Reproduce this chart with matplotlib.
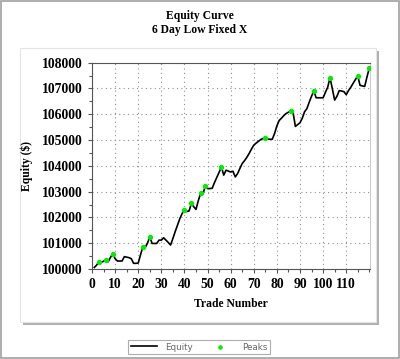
import matplotlib
matplotlib.use('Agg')
import matplotlib.pyplot as plt
from matplotlib.patches import Rectangle
from matplotlib.ticker import MultipleLocator

# equity after each trade
trades = list(range(1, 121))
equity = [
    100060, 100150, 100280, 100260, 100300, 100360, 100280, 100450, 100600, 100400,
    100310, 100310, 100310, 100480, 100460, 100440, 100400, 100220, 100220, 100230,
    100550, 100860, 100830, 101000, 101250, 100990, 100990, 100990, 101120, 101120,
    101210, 101120, 101030, 100930, 101180, 101450, 101700, 101950, 102150, 102280,
    102230, 102250, 102540, 102420, 102310, 102650, 102930, 102900, 103210, 103120,
    103120, 103130, 103350, 103550, 103750, 103960, 103640, 103830, 103800, 103760,
    103790, 103570, 103700, 103900, 104090, 104200, 104330, 104480, 104650, 104800,
    104880, 104950, 105020, 105060, 105090, 105040, 105030, 105030, 105250, 105550,
    105760, 105850, 105950, 106030, 106080, 106120, 106080, 105530, 105600, 105670,
    105850, 106100, 106220, 106470, 106700, 106900, 106640, 106640, 106640, 106640,
    106850, 107050, 107420, 106990, 106550, 106700, 106920, 106900, 106880, 106760,
    106920, 107050, 107200, 107350, 107480, 107120, 107100, 107080, 107450, 107790,
]
peak_trades = [3, 6, 9, 22, 25, 40, 43, 47, 49, 56, 75, 86, 96, 103, 115, 120]
peak_equity = [equity[t - 1] for t in peak_trades]

serif = 'Liberation Serif'

fig = plt.figure(figsize=(4.0, 3.59), dpi=100)

# panel with drop shadow
fig.patches.append(Rectangle((23 / 400, 1 - 325 / 359), 356 / 400, 274 / 359,
                             transform=fig.transFigure, facecolor='#b0b0b0',
                             edgecolor='none', zorder=-3))
fig.patches.append(Rectangle((20 / 400, 1 - 322 / 359), 356 / 400, 274 / 359,
                             transform=fig.transFigure, facecolor='white',
                             edgecolor='#e4e4e4', linewidth=0.8, zorder=-2))
# thin outer frame of the image
fig.patches.append(Rectangle((0.002, 0.002), 0.996, 0.996, transform=fig.transFigure,
                             facecolor='none', edgecolor='#a0a0a0', linewidth=1.2,
                             zorder=-1))

ax = fig.add_axes([92 / 400, 1 - 269 / 359, 278 / 400, (269 - 62.7) / 359])
ax.set_facecolor('none')
ax.plot(trades, equity, color='black', linewidth=1.2, label='Equity', zorder=3)
ax.scatter(peak_trades, peak_equity, color='#00ee00', s=8, label='Peaks', zorder=4)

ax.set_xlim(0, 120.3)
ax.set_ylim(100000, 108000)
ax.xaxis.set_minor_locator(MultipleLocator(5))
ax.yaxis.set_major_locator(MultipleLocator(1000))
ax.yaxis.set_minor_locator(MultipleLocator(500))
ax.set_xticks(range(0, 120, 10))
ax.grid(True, which='major', linestyle=(0, (1, 3)), color='#909090', linewidth=0.8)

for s in ['top', 'left', 'bottom']:
    ax.spines[s].set_color('#555555')
ax.spines['right'].set_color('#cccccc')
ax.tick_params(which='both', direction='out', color='#555555', length=3, width=0.8)
ax.tick_params(which='minor', length=2)
for lab in ax.get_xticklabels() + ax.get_yticklabels():
    lab.set_fontfamily(serif)
    lab.set_fontweight('bold')
    lab.set_fontsize(9.8)

ax.set_xlabel('Trade Number', fontfamily=serif, fontweight='bold', fontsize=8.4, labelpad=5)
ax.set_ylabel('Equity ($)', fontfamily=serif, fontweight='bold', fontsize=8.4, labelpad=7)

fig.text(0.5, 1 - 16 / 359, 'Equity Curve', ha='center', va='center',
         fontfamily=serif, fontweight='bold', fontsize=8.4)
fig.text(0.5, 1 - 30 / 359, '6 Day Low Fixed X', ha='center', va='center',
         fontfamily=serif, fontweight='bold', fontsize=8.4)

leg = fig.legend(loc='center', bbox_to_anchor=(199 / 400, 1 - 347 / 359), ncol=2,
                 fontsize=6.3, frameon=True, fancybox=False, edgecolor='#999999',
                 borderpad=0.3, handlelength=3.0, columnspacing=1.6, handletextpad=1.0,
                 markerscale=0.8)
for t in leg.get_texts():
    t.set_color('#666666')
leg.get_frame().set_linewidth(0.8)

fig.savefig('out.png', dpi=100)
